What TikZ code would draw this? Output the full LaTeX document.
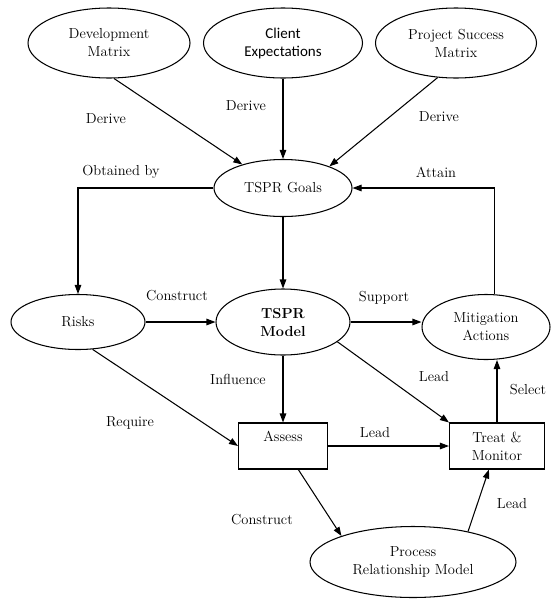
\documentclass[tikz,border=0pt]{standalone}
\usepackage{fontspec}
\newfontfamily\calibrifont{Carlito}
\usetikzlibrary{shapes.geometric,arrows.meta}

\begin{document}
\begin{tikzpicture}[x=1pt,y=-1pt,->,>={Triangle[length=9pt,width=6.5pt]},line width=1.05pt,
		font=\fontsize{14.5}{18}\selectfont,
		oval node/.style={ellipse,draw,align=center,inner sep=0pt},
		box node/.style={rectangle,draw,align=center,minimum width=92pt,minimum height=46pt,inner sep=0pt},
		tag node/.style={inner sep=0pt}]

		\useasboundingbox (0,0) rectangle (552,600);

		\node[oval node,minimum width=162pt,minimum height=70pt] (dev) at (109,43) {Development\\Matrix};
		\node[oval node,minimum width=159pt,minimum height=70pt,font=\calibrifont\fontsize{15}{18}\selectfont] (client) at (283,43) {Client\\Expectations};
		\node[oval node,minimum width=161pt,minimum height=70pt] (succ) at (456,43) {Project Success\\Matrix};
		\node[oval node,minimum width=138pt,minimum height=57pt] (goals) at (283,188) {TSPR Goals};
		\node[oval node,minimum width=134pt,minimum height=55pt] (risks) at (78,322) {Risks};
		\node[oval node,minimum width=134pt,minimum height=66pt,font=\bfseries\fontsize{14.5}{18}\selectfont] (model) at (283,322) {TSPR\\Model};
		\node[oval node,minimum width=128pt,minimum height=65pt] (miti) at (486,327) {Mitigation\\Actions};
		\node[box node,minimum width=89pt] (assess) at (283,446) {Assess\\[2pt]};
		\node[box node,minimum width=95pt] (treat) at (497,446) {Treat \&\\Monitor};
		\node[oval node,minimum width=206pt,minimum height=71pt] (prm) at (413,562) {Process\\Relationship Model};

		\path
		(dev.-82) edge (goals.150)
		(client) edge (goals)
		(succ.-118) edge (goals.25)
		(goals) edge (model)
		(risks) edge (model)
		(risks.-62) edge (assess.west)
		(model) edge (assess)
		(model.-20) edge (treat.north west)
		(assess) edge (treat)
		(treat.north) edge (treat.north |- miti.south)
		(assess) edge (prm.160)
		(prm.29) edge (treat.-109);
		\draw (model.east) -- (model.east -| miti.west);
		\draw (goals.west) -| (risks.north);
		\draw (miti.76) |- (goals.east);

		% edge labels
		\node[tag node] (d1) at (106,119) {Derive};
		\node[tag node] (d2) at (246,106) {Derive};
		\node[tag node] (d3) at (439,117) {Derive};
		\node[tag node] (obt) at (121,172) {Obtained by};
		\node[tag node] (att) at (436,172) {Attain};
		\node[tag node] (c1) at (177,296) {Construct};
		\node[tag node] (sup) at (384,298) {Support};
		\node[tag node] (inf) at (238,379) {Influence};
		\node[tag node] (l1) at (434,377) {Lead};
		\node[tag node] (sel) at (528,390) {Select};
		\node[tag node] (req) at (130,423) {Require};
		\node[tag node] (l2) at (375,433) {Lead};
		\node[tag node] (c2) at (262,520) {Construct};
		\node[tag node] (l3) at (512,504) {Lead};
\end{tikzpicture}
\end{document}
